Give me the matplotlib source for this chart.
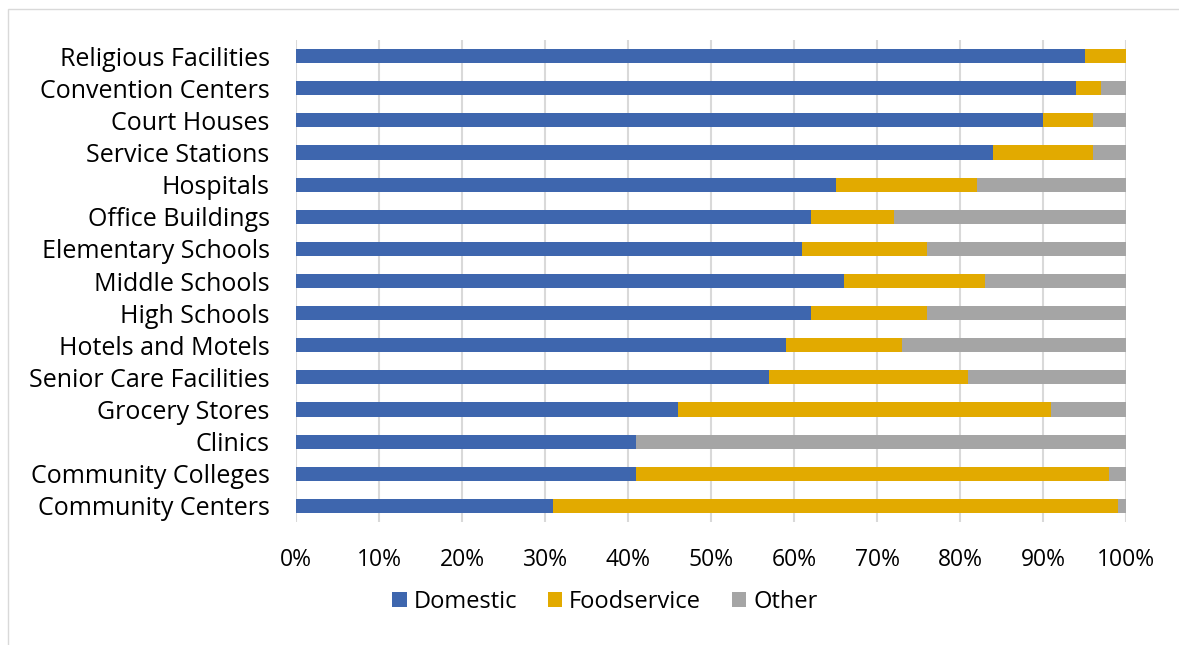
import matplotlib.pyplot as plt
from matplotlib.patches import Rectangle
from matplotlib.ticker import PercentFormatter

# Category order top to bottom
categories = ["Religious Facilities", "Convention Centers", "Court Houses",
              "Service Stations", "Hospitals", "Office Buildings",
              "Elementary Schools", "Middle Schools", "High Schools",
              "Hotels and Motels", "Senior Care Facilities", "Grocery Stores",
              "Clinics", "Community Colleges", "Community Centers"]

# Shares in percent
domestic = [95, 94, 90, 84, 65, 62, 61, 66, 62, 59, 57, 46, 41, 41, 31]
foodservice = [5, 3, 6, 12, 17, 10, 15, 17, 14, 14, 24, 45, 0, 57, 68]
other = [0, 3, 4, 4, 18, 28, 24, 17, 24, 27, 19, 9, 59, 2, 1]

plt.rcParams['font.family'] = ['Open Sans', 'DejaVu Sans']

fig = plt.figure(figsize=(11.79, 6.45), dpi=100)
ax = fig.add_axes([296 / 1179, 1 - 522 / 645, 830 / 1179, 482 / 645])

# outer chart frame
fig.patches.append(Rectangle((8 / 1179, -0.1), 1.2, (1 - 9 / 645) + 0.1,
                             transform=fig.transFigure, fill=False,
                             edgecolor="#d9d9d9", linewidth=1.0))

y = list(range(len(categories)))
left2 = [d + f for d, f in zip(domestic, foodservice)]
h = 0.44
ax.barh(y, domestic, height=h, color="#3e66ae", label="Domestic", zorder=3)
ax.barh(y, foodservice, left=domestic, height=h, color="#e2aa00", label="Foodservice", zorder=3)
ax.barh(y, other, left=left2, height=h, color="#a5a5a5", label="Other", zorder=3)

ax.set_xlim(0, 100)
ax.set_ylim(len(categories) - 0.5, -0.5)
ax.set_xticks(range(0, 101, 10))
ax.xaxis.set_major_formatter(PercentFormatter(decimals=0))
ax.set_yticks(y)
ax.set_yticklabels(categories)
ax.tick_params(axis="both", length=0, colors="black")
ax.tick_params(axis="x", pad=19, labelsize=16.5)
ax.tick_params(axis="y", pad=19, labelsize=18)
ax.grid(axis="x", color="#d9d9d9", linewidth=1.5, zorder=0)
for s in ax.spines.values():
    s.set_visible(False)

fig.legend(loc="center", bbox_to_anchor=(605 / 1179, 1 - 602 / 645), ncol=3,
           frameon=False, fontsize=17, handlelength=0.6, handleheight=0.6,
           handletextpad=0.3, columnspacing=1.3)

fig.savefig("out.png", dpi=100)
